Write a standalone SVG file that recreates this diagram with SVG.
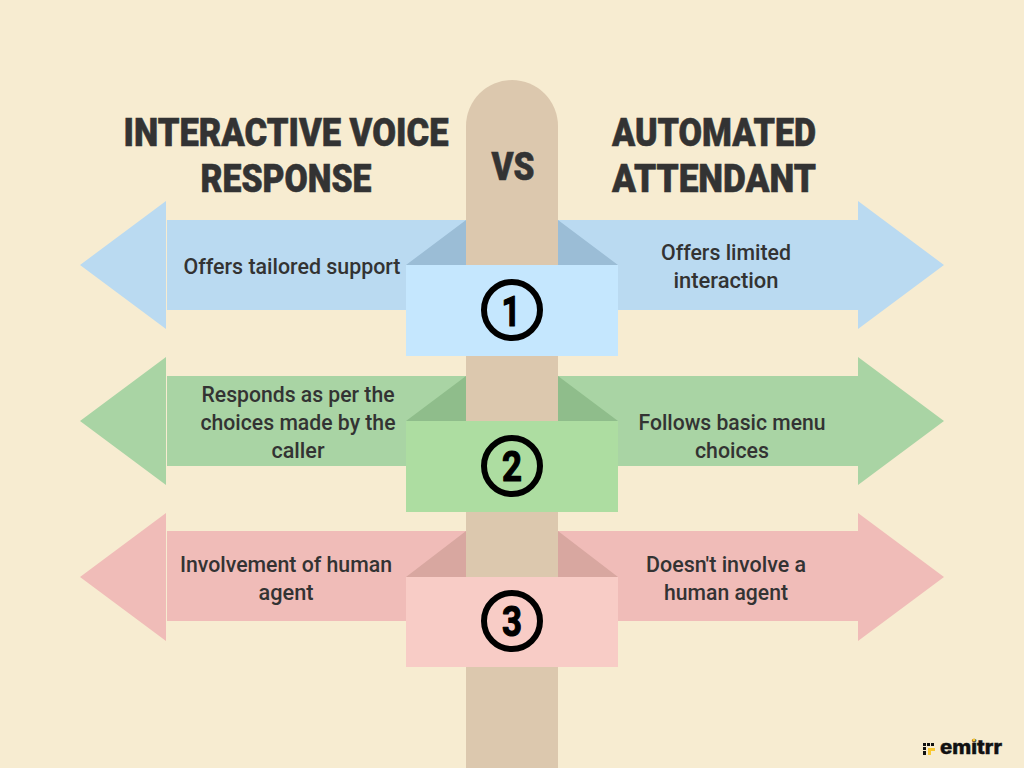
<svg xmlns="http://www.w3.org/2000/svg" width="1024" height="768" viewBox="0 0 1024 768">
<style>
.t{font-family:"Roboto","Liberation Sans",sans-serif;font-weight:500;font-size:22px;fill:#333333;text-anchor:middle}
.h{font-family:"Roboto","Liberation Sans",sans-serif;font-weight:900;font-size:38px;fill:#333333;stroke:#333333;stroke-width:.6;text-anchor:middle}
.n{font-family:"Roboto","Liberation Sans",sans-serif;font-weight:700;font-size:42px;fill:#000;stroke:#000;stroke-width:1.2;stroke-linejoin:round;text-anchor:middle}
.c{fill:none;stroke:#000;stroke-width:6}
.blue{fill:#badaf1}.green{fill:#a9d4a4}.red{fill:#f0bcb8}
</style>
<rect width="1024" height="768" fill="#f7ecd1"/>
<g id="post"><path d="M466 768V126a46 46 0 0 1 92 0V768Z" fill="#dcc8ae"/></g>
<g id="titles">
<text class="h" x="286" y="146" textLength="325" lengthAdjust="spacingAndGlyphs">INTERACTIVE VOICE</text>
<text class="h" x="286" y="192" textLength="171" lengthAdjust="spacingAndGlyphs">RESPONSE</text>
<text class="h" x="513" y="180" textLength="43" lengthAdjust="spacingAndGlyphs">VS</text>
<text class="h" x="714" y="146" textLength="204" lengthAdjust="spacingAndGlyphs">AUTOMATED</text>
<text class="h" x="714" y="192" textLength="204" lengthAdjust="spacingAndGlyphs">ATTENDANT</text>
</g>
<g id="row1">
<path class="blue" d="M80 265L166 201V329ZM167 220H466V310H167ZM558 220H858V310H558ZM858 201L944 265L858 329Z"/>
<path d="M406 265L466 220V265ZM558 220L618 265H558Z" fill="#9bbdd6"/>
<rect x="406" y="265" width="212" height="91" fill="#c5e7fe"/>
<circle class="c" cx="512" cy="310" r="28"/>
<text class="n" x="511" y="326" textLength="19" lengthAdjust="spacingAndGlyphs">1</text>
<text class="t" x="292" y="274" textLength="217" lengthAdjust="spacingAndGlyphs">Offers tailored support</text>
<text class="t" x="726" y="260" textLength="130" lengthAdjust="spacingAndGlyphs">Offers limited</text>
<text class="t" x="726" y="288" textLength="105" lengthAdjust="spacingAndGlyphs">interaction</text>
</g>
<g id="row2">
<path class="green" d="M80 421L166 357V485ZM167 376H466V466H167ZM558 376H858V466H558ZM858 357L944 421L858 485Z"/>
<path d="M406 421L466 376V421ZM558 376L618 421H558Z" fill="#8fbd8b"/>
<rect x="406" y="421" width="212" height="91" fill="#addda1"/>
<circle class="c" cx="512" cy="466" r="28"/>
<text class="n" x="512" y="481" textLength="20" lengthAdjust="spacingAndGlyphs">2</text>
<text class="t" x="298" y="402" textLength="193" lengthAdjust="spacingAndGlyphs">Responds as per the</text>
<text class="t" x="298" y="430" textLength="195" lengthAdjust="spacingAndGlyphs">choices made by the</text>
<text class="t" x="298" y="458" textLength="53" lengthAdjust="spacingAndGlyphs">caller</text>
<text class="t" x="732" y="430" textLength="187" lengthAdjust="spacingAndGlyphs">Follows basic menu</text>
<text class="t" x="732" y="458" textLength="74" lengthAdjust="spacingAndGlyphs">choices</text>
</g>
<g id="row3">
<path class="red" d="M80 577L166 513V641ZM167 531H466V621H167ZM558 531H858V621H558ZM858 513L944 577L858 641Z"/>
<path d="M406 577L466 531V577ZM558 531L618 577H558Z" fill="#d8a7a0"/>
<rect x="406" y="577" width="212" height="90" fill="#f8ccc6"/>
<circle class="c" cx="512" cy="621" r="28"/>
<text class="n" x="512" y="636" textLength="20" lengthAdjust="spacingAndGlyphs">3</text>
<text class="t" x="286" y="572" textLength="212" lengthAdjust="spacingAndGlyphs">Involvement of human</text>
<text class="t" x="286" y="600" textLength="55" lengthAdjust="spacingAndGlyphs">agent</text>
<text class="t" x="726" y="572" textLength="160" lengthAdjust="spacingAndGlyphs">Doesn't involve a</text>
<text class="t" x="726" y="600" textLength="124" lengthAdjust="spacingAndGlyphs">human agent</text>
</g>
<g id="logo">
<g fill="#111"><rect x="923" y="743" width="3" height="3"/><rect x="927" y="743" width="3" height="3"/><rect x="931" y="743" width="3" height="3"/><rect x="923" y="747" width="3" height="3"/><rect x="923" y="751" width="3" height="4"/></g>
<path d="M928 748H935V751H931V755H928Z" fill="#f9c933"/>
<text x="971" y="754" font-family="Inter,'Liberation Sans',sans-serif" font-weight="800" font-size="19" fill="#111" stroke="#111" stroke-width=".4" text-anchor="middle" textLength="62" lengthAdjust="spacingAndGlyphs">emitrr</text>
<circle cx="974" cy="740" r="1.6" fill="#f9c933"/>
</g>
</svg>
